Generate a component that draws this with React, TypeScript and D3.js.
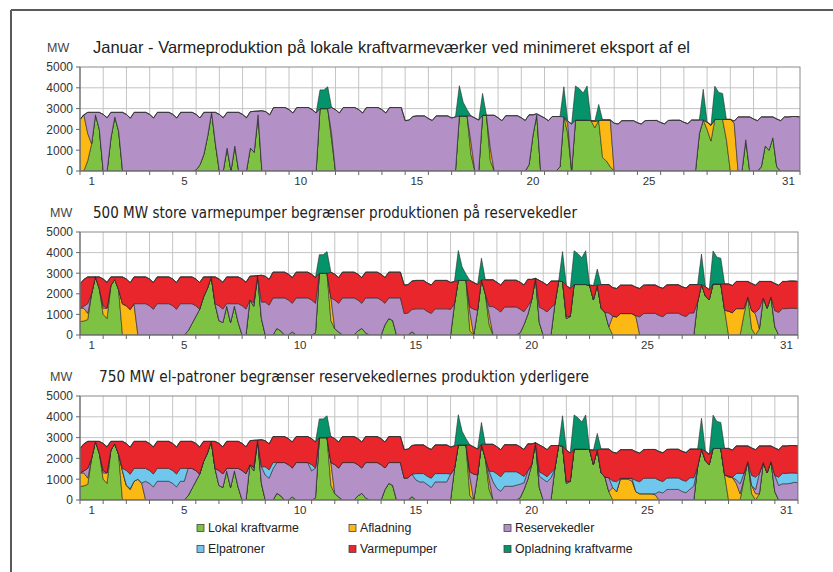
import React from "react";
import * as d3 from "d3";

// ---------- data (MW, one value every 4 hours, 6 per day, Jan 1 00:00 .. Feb 1 00:00) ----------
const STEPS_PER_DAY = 6;
const DAY_COUNT = 31;
const X_TICK_DAYS = [1, 5, 10, 15, 20, 25, 31];
const Y_TICKS = [0, 1000, 2000, 3000, 4000, 5000];
const UNIT = "MW";
const TITLES = [
  "Januar - Varmeproduktion på lokale kraftvarmeværker ved minimeret eksport af el",
  "500 MW store varmepumper begrænser produktionen på reservekedler",
  "750 MW el-patroner begrænser reservekedlernes produktion yderligere",
];
const SERIES_KEYS = ["lokal", "afladning", "reserve", "elpatroner", "varmepumper", "opladning"];
const SERIES_LABELS = [
  "Lokal kraftvarme",
  "Afladning",
  "Reservekedler",
  "Elpatroner",
  "Varmepumper",
  "Opladning kraftvarme",
];

// total heat demand (top outline of the stacks)
const DEMAND = [
  2480, 2700, 2820, 2820, 2820, 2820,
  2720, 2560, 2820, 2820, 2820, 2820,
  2720, 2540, 2820, 2820, 2820, 2820,
  2720, 2550, 2820, 2820, 2820, 2820,
  2720, 2550, 2820, 2820, 2820, 2820,
  2720, 2550, 2820, 2820, 2820, 2820,
  2720, 2560, 2820, 2820, 2820, 2820,
  2720, 2560, 2850, 2870, 2880, 2900,
  2850, 2700, 3050, 3050, 3050, 3050,
  2950, 2790, 3050, 3050, 3050, 3050,
  2950, 2790, 3000, 3000, 3000, 3050,
  2950, 2790, 3050, 3050, 3050, 3050,
  2950, 2790, 3050, 3050, 3050, 3050,
  2950, 2790, 3050, 3050, 3050, 3050,
  2420, 2450, 2620, 2650, 2650, 2650,
  2520, 2430, 2650, 2650, 2650, 2650,
  2550, 2600, 2650, 2650, 2650, 2650,
  2550, 2450, 2680, 2680, 2680, 2680,
  2560, 2420, 2660, 2660, 2660, 2660,
  2560, 2430, 2700, 2700, 2750, 2650,
  2550, 2420, 2620, 2620, 2620, 2600,
  2400, 2260, 2450, 2450, 2450, 2450,
  2420, 2400, 2420, 2450, 2450, 2450,
  2300, 2260, 2420, 2420, 2420, 2420,
  2320, 2260, 2420, 2430, 2430, 2430,
  2330, 2270, 2430, 2440, 2440, 2440,
  2340, 2280, 2450, 2450, 2450, 2450,
  2350, 2200, 2480, 2480, 2480, 2480,
  2480, 2400, 2600, 2600, 2600, 2600,
  2500, 2420, 2600, 2600, 2600, 2600,
  2500, 2420, 2600, 2600, 2620, 2620,
  2600,
];

// Lokal kraftvarme, top chart
const LOKAL_1 = [
  0, 0, 500, 1300, 2700, 2000,
  0, 0, 1600, 2600, 1900, 0,
  0, 0, 0, 0, 0, 0,
  0, 0, 0, 0, 0, 0,
  0, 0, 0, 0, 0, 0,
  50, 300, 800, 1700, 2820, 1300,
  0, 0, 1100, 0, 1200, 0,
  0, 0, 1100, 900, 2700, 0,
  0, 0, 0, 0, 0, 0,
  0, 0, 0, 0, 0, 0,
  0, 0, 3000, 3000, 3000, 1500,
  0, 0, 0, 0, 0, 0,
  0, 0, 0, 0, 0, 0,
  0, 0, 0, 0, 0, 0,
  0, 0, 0, 0, 0, 0,
  0, 0, 0, 0, 0, 0,
  0, 0, 2650, 2650, 2650, 800,
  0, 0, 2680, 2680, 500, 0,
  0, 0, 0, 0, 0, 0,
  0, 0, 300, 1700, 2700, 0,
  0, 0, 0, 0, 200, 2600,
  1800, 0, 2450, 2450, 2450, 2450,
  2420, 2080, 2420, 640, 480, 200,
  0, 0, 0, 0, 0, 0,
  0, 0, 0, 0, 0, 0,
  0, 0, 0, 0, 0, 0,
  0, 0, 0, 0, 1800, 2450,
  2000, 1440, 2480, 2480, 2480, 1500,
  0, 0, 0, 0, 1500, 0,
  0, 0, 200, 1200, 1000, 1600,
  200, 0, 0, 0, 0, 0,
  0,
];

// Lokal kraftvarme, middle and bottom charts
const LOKAL_23 = [
  650, 680, 750, 2000, 2820, 2250,
  1000, 800, 2400, 2700, 2200, 0,
  0, 0, 0, 0, 0, 0,
  0, 0, 0, 0, 0, 0,
  0, 0, 0, 0, 200, 550,
  900, 1250, 1850, 2250, 2820, 1500,
  700, 600, 1400, 600, 1400, 600,
  0, 0, 1700, 1400, 2880, 800,
  0, 0, 0, 320, 200, 0,
  0, 150, 0, 0, 0, 0,
  0, 100, 3000, 3000, 3000, 700,
  300, 150, 0, 0, 0, 0,
  200, 320, 100, 0, 0, 0,
  0, 500, 800, 700, 0, 0,
  0, 0, 160, 0, 0, 0,
  0, 0, 0, 0, 0, 0,
  0, 1500, 2650, 2650, 2650, 200,
  0, 1200, 2680, 2000, 500, 0,
  0, 0, 0, 0, 0, 0,
  100, 500, 1000, 1700, 2750, 600,
  0, 0, 0, 1500, 2620, 2600,
  800, 900, 2450, 2450, 2450, 2450,
  2420, 1700, 2420, 1300, 1100, 400,
  0, 0, 0, 0, 0, 0,
  0, 0, 0, 0, 0, 0,
  0, 0, 0, 0, 0, 0,
  0, 0, 0, 0, 1600, 2450,
  1900, 1700, 2480, 2480, 2480, 1200,
  0, 0, 0, 0, 1000, 1850,
  300, 0, 300, 1800, 1300, 1850,
  400, 0, 0, 0, 0, 0,
  0,
];

// Opladning kraftvarme (above demand), all charts
const OPLADNING = [
  0, 0, 0, 0, 0, 0,
  0, 0, 0, 0, 0, 0,
  0, 0, 0, 0, 0, 0,
  0, 0, 0, 0, 0, 0,
  0, 0, 0, 0, 0, 0,
  0, 0, 0, 0, 0, 0,
  0, 0, 0, 0, 0, 0,
  0, 0, 0, 0, 0, 0,
  0, 0, 0, 0, 0, 0,
  0, 0, 0, 0, 0, 0,
  0, 0, 900, 900, 1050, 0,
  0, 0, 0, 0, 0, 0,
  0, 0, 0, 0, 0, 0,
  0, 0, 0, 0, 0, 0,
  0, 0, 0, 0, 0, 0,
  0, 0, 0, 0, 0, 0,
  0, 0, 1450, 650, 300, 0,
  0, 0, 1050, 0, 0, 0,
  0, 0, 0, 0, 0, 0,
  0, 0, 0, 0, 0, 0,
  0, 0, 0, 0, 0, 1450,
  0, 0, 1640, 1500, 1300, 1640,
  0, 0, 780, 0, 0, 0,
  0, 0, 0, 0, 0, 0,
  0, 0, 0, 0, 0, 0,
  0, 0, 0, 0, 0, 0,
  0, 0, 0, 0, 0, 1480,
  0, 0, 1600, 1300, 1250, 0,
  0, 0, 0, 0, 0, 0,
  0, 0, 0, 0, 0, 0,
  0, 0, 0, 0, 0, 0,
  0,
];

// Afladning per chart
const AFLADNING_1 = [
  2480, 2700, 1300, 0, 0, 0,
  0, 0, 0, 0, 0, 0,
  0, 0, 0, 0, 0, 0,
  0, 0, 0, 0, 0, 0,
  0, 0, 0, 0, 0, 0,
  0, 0, 0, 0, 0, 0,
  0, 0, 0, 0, 0, 0,
  0, 0, 0, 0, 0, 0,
  0, 0, 0, 0, 0, 0,
  0, 0, 0, 0, 0, 0,
  0, 0, 0, 0, 0, 300,
  0, 0, 0, 0, 0, 0,
  0, 0, 0, 0, 0, 0,
  0, 0, 0, 0, 0, 0,
  0, 0, 0, 0, 0, 0,
  0, 0, 0, 0, 0, 0,
  0, 0, 0, 0, 0, 600,
  0, 0, 0, 0, 600, 0,
  0, 0, 0, 0, 0, 0,
  0, 0, 0, 0, 0, 0,
  0, 0, 0, 0, 0, 0,
  500, 0, 0, 0, 0, 0,
  0, 320, 0, 1810, 1970, 2250,
  0, 0, 0, 0, 0, 0,
  0, 0, 0, 0, 0, 0,
  0, 0, 0, 0, 0, 0,
  0, 0, 0, 0, 0, 0,
  350, 760, 0, 0, 0, 980,
  2480, 2300, 0, 0, 0, 0,
  0, 0, 0, 0, 0, 0,
  0, 0, 0, 0, 0, 0,
  0,
];

const AFLADNING_2 = [
  650, 620, 300, 0, 0, 0,
  300, 500, 0, 0, 0, 1500,
  1420, 1240, 1500, 0, 0, 0,
  0, 0, 0, 0, 0, 0,
  0, 0, 0, 0, 0, 0,
  0, 0, 0, 0, 0, 0,
  0, 0, 0, 0, 0, 0,
  0, 0, 0, 0, 0, 0,
  0, 0, 0, 0, 0, 0,
  0, 0, 0, 0, 0, 0,
  0, 0, 0, 0, 0, 1100,
  0, 0, 0, 0, 0, 0,
  0, 0, 0, 0, 0, 0,
  0, 0, 0, 0, 0, 0,
  0, 0, 0, 0, 0, 0,
  0, 0, 0, 0, 0, 0,
  0, 0, 0, 0, 0, 900,
  0, 0, 0, 0, 500, 0,
  0, 0, 0, 0, 0, 0,
  0, 0, 0, 0, 0, 0,
  0, 0, 0, 0, 0, 0,
  0, 0, 0, 0, 0, 0,
  0, 0, 0, 0, 0, 0,
  900, 880, 1040, 1040, 1040, 1040,
  900, 0, 0, 0, 0, 0,
  0, 0, 0, 0, 0, 0,
  0, 0, 0, 0, 0, 0,
  0, 0, 0, 0, 0, 0,
  1160, 1080, 1280, 1280, 280, 0,
  880, 1000, 0, 0, 0, 0,
  0, 0, 0, 0, 0, 0,
  0,
];

const AFLADNING_3 = [
  650, 620, 300, 0, 0, 0,
  300, 500, 0, 0, 0, 1400,
  700, 500, 900, 1000, 800, 0,
  0, 0, 0, 0, 0, 0,
  0, 0, 0, 0, 0, 0,
  0, 0, 0, 0, 0, 0,
  0, 0, 0, 0, 0, 0,
  0, 0, 0, 0, 0, 0,
  0, 0, 0, 0, 0, 0,
  0, 0, 0, 0, 0, 0,
  0, 0, 0, 0, 0, 1100,
  0, 0, 0, 0, 0, 0,
  0, 0, 0, 0, 0, 0,
  0, 0, 0, 0, 0, 0,
  0, 0, 0, 0, 0, 0,
  0, 0, 0, 0, 0, 0,
  0, 0, 0, 0, 0, 900,
  0, 0, 0, 0, 500, 0,
  0, 0, 0, 0, 0, 0,
  0, 0, 0, 0, 0, 0,
  0, 0, 0, 0, 0, 0,
  0, 0, 0, 0, 0, 0,
  0, 0, 0, 0, 0, 0,
  600, 400, 1000, 1000, 1000, 900,
  400, 300, 300, 300, 300, 250,
  0, 0, 0, 0, 0, 0,
  0, 0, 0, 0, 0, 0,
  0, 0, 0, 0, 0, 0,
  1100, 1080, 800, 300, 0, 0,
  400, 300, 0, 0, 0, 0,
  0, 0, 0, 0, 0, 0,
  0,
];

// Varmepumper band (middle and bottom charts), before being squeezed by kraftvarme
const VARMEPUMPER = [
  1300, 1300, 1300, 1300, 1300, 1300,
  1300, 1300, 1300, 1300, 1300, 1300,
  1300, 1300, 1300, 1300, 1300, 1300,
  1300, 1300, 1300, 1300, 1300, 1300,
  1300, 1300, 1300, 1300, 1300, 1300,
  1300, 1300, 1300, 1300, 1300, 1300,
  1300, 1300, 1300, 1300, 1300, 1300,
  1300, 1300, 1300, 1300, 1300, 1300,
  1250, 1250, 1250, 1250, 1250, 1250,
  1250, 1250, 1250, 1250, 1250, 1250,
  1250, 1250, 1250, 1250, 1250, 1250,
  1250, 1250, 1250, 1250, 1250, 1250,
  1250, 1250, 1250, 1250, 1250, 1250,
  1250, 1250, 1250, 1250, 1250, 1250,
  1380, 1380, 1380, 1380, 1380, 1380,
  1380, 1380, 1380, 1380, 1380, 1380,
  1300, 1300, 1300, 1300, 1300, 1300,
  1300, 1300, 1300, 1300, 1300, 1300,
  1300, 1300, 1300, 1300, 1300, 1300,
  1300, 1300, 1300, 1300, 1300, 1300,
  1300, 1300, 1300, 1300, 1300, 1300,
  1500, 1500, 1300, 1300, 1300, 1300,
  1380, 1380, 1380, 1380, 1380, 1380,
  1380, 1380, 1380, 1380, 1380, 1380,
  1380, 1380, 1380, 1380, 1380, 1380,
  1380, 1380, 1380, 1380, 1380, 1380,
  1380, 1380, 1380, 1380, 1380, 1380,
  1320, 1320, 1320, 1320, 1320, 1320,
  1320, 1320, 1320, 1320, 1320, 1320,
  1320, 1320, 1320, 1320, 1320, 1320,
  1320, 1320, 1320, 1320, 1320, 1320,
  1320,
];

// Elpatroner band (bottom chart)
const ELPATRONER_3 = [
  0, 0, 0, 0, 0, 0,
  0, 0, 0, 0, 0, 700,
  700, 700, 700, 700, 700, 620,
  620, 620, 620, 620, 620, 620,
  620, 620, 620, 620, 0, 0,
  0, 0, 0, 0, 0, 0,
  0, 0, 0, 0, 0, 0,
  0, 0, 0, 0, 0, 0,
  400, 400, 300, 0, 0, 0,
  0, 0, 0, 0, 0, 0,
  300, 0, 0, 0, 0, 0,
  0, 0, 0, 0, 0, 0,
  0, 0, 0, 0, 0, 0,
  0, 0, 0, 0, 0, 0,
  0, 0, 0, 300, 400, 400,
  400, 450, 400, 400, 400, 400,
  0, 0, 0, 0, 0, 0,
  0, 0, 0, 0, 0, 500,
  700, 700, 700, 700, 700, 650,
  500, 300, 0, 0, 0, 200,
  250, 250, 250, 0, 0, 0,
  0, 0, 0, 0, 0, 0,
  0, 0, 0, 0, 0, 0,
  400, 500, 0, 0, 0, 0,
  650, 700, 750, 750, 750, 750,
  550, 550, 550, 550, 550, 550,
  550, 550, 550, 400, 0, 0,
  0, 0, 0, 0, 0, 0,
  0, 0, 300, 500, 0, 0,
  500, 600, 0, 0, 0, 0,
  0, 400, 500, 500, 500, 450,
  450,
];

// ---------- styles ----------
const COLORS: Record<string, string> = {
  lokal: "#7dc243",
  afladning: "#fdb913",
  reserve: "#b391c7",
  elpatroner: "#6fc7ee",
  varmepumper: "#e8262b",
  opladning: "#04936a",
};

const FONT = "'Liberation Sans', Arial, sans-serif";
const TITLE_FONT_2 = "'DejaVu Sans', Verdana, sans-serif";

const PANELS = [
  { x0: 80, x1: 800, yTop: 67, yBot: 171, titleX: 93, titleY: 52.5, titleW: 597, titleFont: FONT, titleSize: 16.5, mwX: 47, mwY: 52 },
  { x0: 80, x1: 798, yTop: 232, yBot: 335, titleX: 93, titleY: 217.5, titleW: 484, titleFont: TITLE_FONT_2, titleSize: 15, mwX: 50, mwY: 217 },
  { x0: 80, x1: 798, yTop: 396, yBot: 500, titleX: 99, titleY: 381.5, titleW: 490, titleFont: TITLE_FONT_2, titleSize: 15, mwX: 50, mwY: 381 },
];

type Row = { t: number; [k: string]: number };

function buildRows(lokal: number[], afladning: number[], varmepumper: number[] | null, elpatroner: number[] | null): Row[] {
  return DEMAND.map((d, i) => {
    const g = lokal[i];
    const o = afladning[i];
    const room = Math.max(0, d - g - o);
    const r = varmepumper ? Math.min(varmepumper[i], room) : 0;
    const b = elpatroner ? Math.min(elpatroner[i], Math.max(0, room - r)) : 0;
    const p = Math.max(0, room - r - b);
    return {
      t: i / STEPS_PER_DAY,
      lokal: g,
      afladning: o,
      reserve: p,
      elpatroner: b,
      varmepumper: r,
      opladning: OPLADNING[i],
    };
  });
}

const PANEL_DATA = [
  { rows: buildRows(LOKAL_1, AFLADNING_1, null, null), keys: ["lokal", "afladning", "reserve", "opladning"] },
  { rows: buildRows(LOKAL_23, AFLADNING_2, VARMEPUMPER, null), keys: ["lokal", "afladning", "reserve", "varmepumper", "opladning"] },
  { rows: buildRows(LOKAL_23, AFLADNING_3, VARMEPUMPER, ELPATRONER_3), keys: ["lokal", "afladning", "reserve", "elpatroner", "varmepumper", "opladning"] },
];

function Panel({ idx }: { idx: number }) {
  const cfg = PANELS[idx];
  const { rows, keys } = PANEL_DATA[idx];
  const x = d3.scaleLinear().domain([0, DAY_COUNT]).range([cfg.x0, cfg.x1]);
  const y = d3.scaleLinear().domain([0, 5000]).range([cfg.yBot, cfg.yTop]);
  const series = d3.stack<Row>().keys(keys)(rows);
  const area = d3
    .area<any>()
    .x((d: any) => x(d.data.t))
    .y0((d: any) => y(d[0]))
    .y1((d: any) => y(d[1]));
  const dayBounds = d3.range(0, DAY_COUNT + 1);
  const clipId = `clip-${idx}`;
  return (
    <g>
      <defs>
        <clipPath id={clipId}>
          <rect x={cfg.x0} y={cfg.yTop} width={cfg.x1 - cfg.x0} height={cfg.yBot - cfg.yTop} />
        </clipPath>
      </defs>
      <rect x={cfg.x0} y={cfg.yTop} width={cfg.x1 - cfg.x0} height={cfg.yBot - cfg.yTop} fill="#fff" />
      {dayBounds.slice(1, -1).map((d) => (
        <line key={"v" + d} x1={x(d)} x2={x(d)} y1={cfg.yTop} y2={cfg.yBot} stroke="#c4c4c4" strokeWidth={1} />
      ))}
      {Y_TICKS.slice(1, -1).map((v) => (
        <line key={"h" + v} x1={cfg.x0} x2={cfg.x1} y1={y(v)} y2={y(v)} stroke="#c4c4c4" strokeWidth={1} />
      ))}
      <g clipPath={`url(#${clipId})`}>
        {series.map((s) => (
          <path
            key={s.key}
            d={area(s as any) || ""}
            fill={COLORS[s.key]}
            stroke="#2b2b2b"
            strokeWidth={0.6}
            strokeLinejoin="round"
          />
        ))}
      </g>
      <rect x={cfg.x0} y={cfg.yTop} width={cfg.x1 - cfg.x0} height={cfg.yBot - cfg.yTop} fill="none" stroke="#8a8a8a" strokeWidth={1} />
      <line x1={cfg.x0} x2={cfg.x0} y1={cfg.yTop} y2={cfg.yBot} stroke="#666" strokeWidth={1} />
      <line x1={cfg.x0} x2={cfg.x1} y1={cfg.yBot} y2={cfg.yBot} stroke="#666" strokeWidth={1} />
      {Y_TICKS.map((v) => (
        <g key={"yt" + v}>
          <line x1={cfg.x0 - 4} x2={cfg.x0} y1={y(v)} y2={y(v)} stroke="#666" />
          <text x={cfg.x0 - 7} y={y(v)} dy="0.36em" textAnchor="end" fontFamily={FONT} fontSize={12} fill="#333">
            {v}
          </text>
        </g>
      ))}
      {dayBounds.map((d) => (
        <line key={"xt" + d} x1={x(d)} x2={x(d)} y1={cfg.yBot} y2={cfg.yBot + 4} stroke="#666" />
      ))}
      {X_TICK_DAYS.map((d) => (
        <text key={"xl" + d} x={x(d - 0.5)} y={cfg.yBot + 14} textAnchor="middle" fontFamily={FONT} fontSize={11.5} fill="#333">
          {d}
        </text>
      ))}
      <text x={cfg.mwX} y={cfg.mwY} fontFamily={FONT} fontSize={12.5} fill="#444">
        {UNIT}
      </text>
      <text
        x={cfg.titleX}
        y={cfg.titleY}
        fontFamily={cfg.titleFont}
        fontSize={cfg.titleSize}
        fill="#222"
        textLength={cfg.titleW}
        lengthAdjust="spacingAndGlyphs"
      >
        {TITLES[idx]}
      </text>
    </g>
  );
}

const LEGEND_COLS = [197, 349, 504];
const LEGEND_ROWS = [528, 549];

function Legend() {
  return (
    <g>
      {SERIES_KEYS.map((k, i) => {
        const cx = LEGEND_COLS[i % 3];
        const cy = LEGEND_ROWS[Math.floor(i / 3)];
        return (
          <g key={k}>
            <rect x={cx} y={cy - 3.5} width={7} height={7} fill={COLORS[k]} stroke="#444" strokeWidth={0.8} />
            <text x={cx + 11} y={cy} dy="0.36em" fontFamily={FONT} fontSize={12.3} fill="#222">
              {SERIES_LABELS[i]}
            </text>
          </g>
        );
      })}
    </g>
  );
}

export default function App() {
  return (
    <svg
      width={833}
      height={572}
      style={{ position: "absolute", left: 0, top: 0, background: "#fff" }}
    >
      <rect x={0} y={0} width={833} height={572} fill="#fff" />
      <line x1={11} x2={833} y1={10} y2={10} stroke="#5a5a5a" strokeWidth={2} />
      <line x1={11} x2={11} y1={10} y2={572} stroke="#5a5a5a" strokeWidth={2} />
      {PANELS.map((_, i) => (
        <Panel key={i} idx={i} />
      ))}
      <Legend />
    </svg>
  );
}
